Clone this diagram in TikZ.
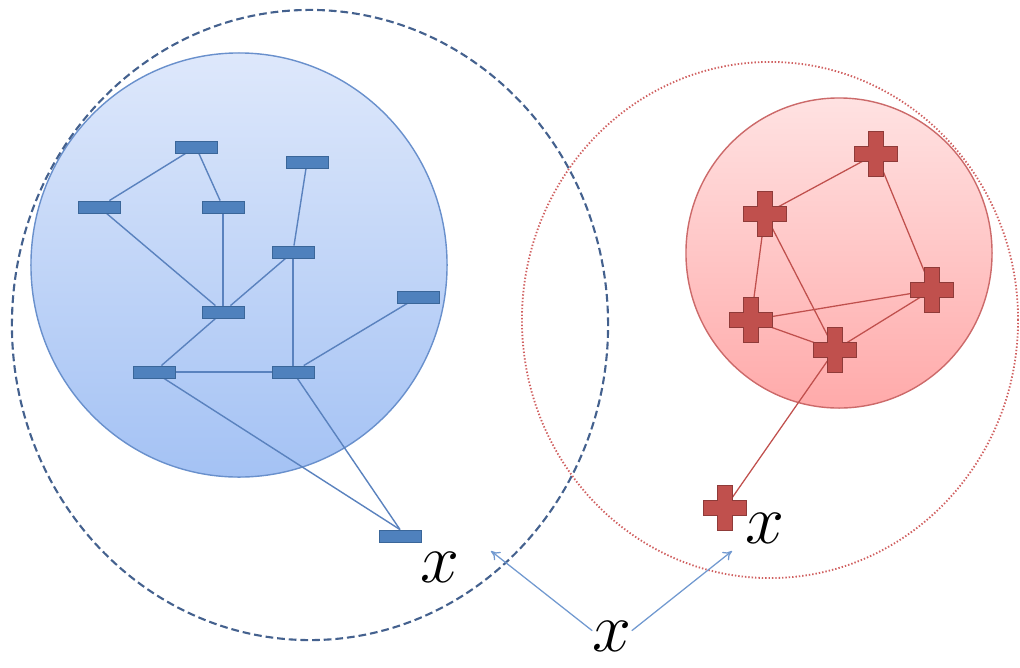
\documentclass[tikz,border=0pt]{standalone}
\definecolor{DashBlue}{HTML}{44618E}
\definecolor{SkyTop}{HTML}{DEE8FB}
\definecolor{SkyBottom}{HTML}{A4C2F4}
\definecolor{SkyEdge}{HTML}{6990CC}
\definecolor{RectBlue}{HTML}{4F81BD}
\definecolor{RectEdge}{HTML}{3A6699}
\definecolor{LinkBlue}{HTML}{5A82BE}
\definecolor{ArrowBlue}{HTML}{7199D0}
\definecolor{RoseTop}{HTML}{FFE2E2}
\definecolor{RoseBottom}{HTML}{FFAAAA}
\definecolor{RoseEdge}{HTML}{CC6A6A}
\definecolor{CrossRed}{HTML}{C0504D}
\definecolor{CrossEdge}{HTML}{8F3B39}
\definecolor{DotRed}{HTML}{D06060}
\usetikzlibrary{arrows.meta, backgrounds}
\tikzset{
  item/.style={draw=RectEdge, fill=RectBlue, minimum width=1.05cm, minimum height=0.3cm, inner sep=0pt, line width=0.6pt},
  bluelink/.style={draw=LinkBlue, line width=1pt},
  redlink/.style={draw=CrossRed, line width=0.9pt},
  bigx/.style={inner sep=0pt, font=\Huge},
  plusmark/.pic={
    \draw[draw=CrossEdge, fill=CrossRed, line width=0.6pt]
      (-7.5,-22.5) -- (7.5,-22.5) -- (7.5,-7.5) -- (21.5,-7.5) -- (21.5,7.5) -- (7.5,7.5)
      -- (7.5,22.5) -- (-7.5,22.5) -- (-7.5,7.5) -- (-21.5,7.5) -- (-21.5,-7.5) -- (-7.5,-7.5) -- cycle;
  }
}

\begin{document}
\begin{tikzpicture}[
  x=0.025cm, y=-0.025cm,
  pointer/.style={-{To[length=2.2mm, width=2.6mm]}, draw=ArrowBlue, line width=0.9pt}
]
\useasboundingbox (0,0) rectangle (1020,667);

\node[item] (b1) at (196,147) {};
\node[item] (b2) at (307,162) {};
\node[item] (b3) at (99,207) {};
\node[item] (b4) at (223,207) {};
\node[item] (b5) at (293,252) {};
\node[item] (b6) at (418,297) {};
\node[item] (b7) at (223,312) {};
\node[item] (b8) at (154,372) {};
\node[item] (b9) at (293,372) {};
\node[item] (b10) at (400,536) {};

\coordinate (r1) at (876,154);
\coordinate (r2) at (765,214);
\coordinate (r3) at (932,290);
\coordinate (r4) at (751,320);
\coordinate (r5) at (835,350);
\coordinate (r6) at (725,508);

\begin{pgfonlayer}{background}
\shade[top color=SkyTop, bottom color=SkyBottom, draw=SkyEdge, line width=1pt]
  (239,265) ellipse [x radius=5.2cm, y radius=5.3cm];
\shade[top color=RoseTop, bottom color=RoseBottom, draw=RoseEdge, line width=1pt]
  (839,253) ellipse [x radius=3.825cm, y radius=3.875cm];
\draw[DashBlue, line width=1.5pt, dash pattern=on 5.5pt off 2.8pt]
  (310,325) ellipse [x radius=7.45cm, y radius=7.875cm];
\draw[DotRed, line width=1.3pt, dash pattern=on 1pt off 1.4pt]
  (770,320) ellipse [x radius=6.2cm, y radius=6.45cm];

\draw[bluelink] (b1) -- (b3);
\draw[bluelink] (b1) -- (b4);
\draw[bluelink] (b3) -- (b7);
\draw[bluelink] (b4) -- (b7);
\draw[bluelink] (b2) -- (b5);
\draw[bluelink] (b5) -- (b7);
\draw[bluelink] (b5) -- (b9);
\draw[bluelink] (b7) -- (b8);
\draw[bluelink] (b8) -- (b9);
\draw[bluelink] (b6) -- (b9);
\draw[bluelink] (b8) -- (b10.north);
\draw[bluelink] (b9) -- (b10.north);

\draw[redlink] (r1) -- (r2);
\draw[redlink] (r1) -- (r3);
\draw[redlink] (r2) -- (r4);
\draw[redlink] (r2) -- (r5);
\draw[redlink] (r4) -- (r3);
\draw[redlink] (r4) -- (r5);
\draw[redlink] (r5) -- (r3);
\draw[redlink] (r5) -- (r6);
\end{pgfonlayer}

\foreach \c in {r1,r2,r3,r4,r5,r6}
  \pic at (\c) {plusmark};

\node[bigx] (xa) at (440,567) {\scalebox{2}{$x$}};
\node[bigx] (xb) at (765,528) {\scalebox{2}{$x$}};
\node[bigx] (xq) at (612,636) {\scalebox{2}{$x$}};

\coordinate (tipa) at (491,551);
\coordinate (tipb) at (732,551);
\draw[pointer] (xq.165) -- (tipa);
\draw[pointer] (xq.15) -- (tipb);
\end{tikzpicture}
\end{document}
